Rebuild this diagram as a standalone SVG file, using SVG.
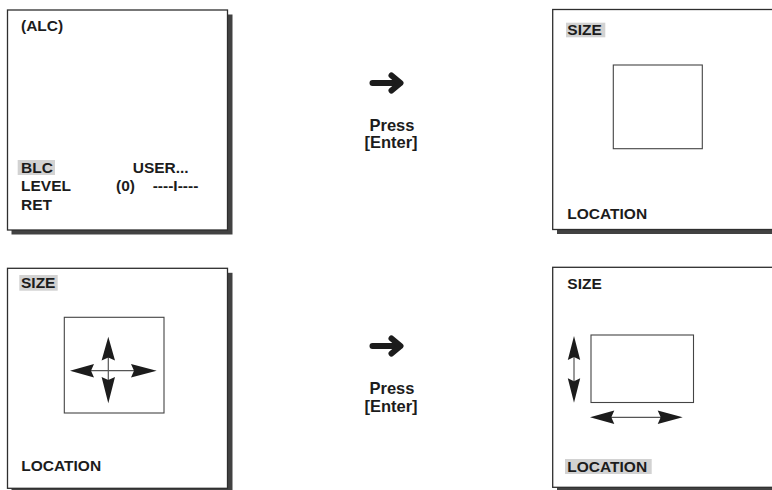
<svg xmlns="http://www.w3.org/2000/svg" width="772" height="490" viewBox="0 0 772 490">
<style>
.bg{fill:#ffffff}
.shadow{fill:#424242}
.screen{fill:#ffffff;stroke:#2e2e2e;stroke-width:1.3}
.inner{fill:none;stroke:#444;stroke-width:1.1}
.hl{fill:#d2d2d2}
.t{font-family:"Liberation Sans",Arial,Helvetica,sans-serif;font-weight:bold;font-size:15.5px;fill:#1c1c1c}
.tm{font-family:"Liberation Sans",Arial,Helvetica,sans-serif;font-weight:bold;font-size:16.5px;fill:#1c1c1c;text-anchor:middle}
.head{fill:#1c1c1c}
.shaft{stroke:#555;stroke-width:1.2;fill:none}
.big{stroke:#1c1c1c;stroke-width:6;stroke-linecap:round;stroke-linejoin:round;fill:none}
</style>
<rect class="bg" x="0" y="0" width="772" height="490"/>

<g id="screen-alc">
<rect class="shadow" x="11.5" y="14.5" width="221" height="220"/>
<rect class="screen" x="7.5" y="10" width="220" height="220"/>
<rect class="hl" x="17.7" y="160" width="37.3" height="15"/>
<text class="t" x="21" y="31">(ALC)</text>
<text class="t" x="21" y="172.5">BLC</text>
<text class="t" x="132.7" y="172.5">USER...</text>
<text class="t" x="21" y="191">LEVEL</text>
<text class="t" x="116" y="191">(0)</text>
<text class="t" x="152.7" y="191">----I----</text>
<text class="t" x="21" y="209.5">RET</text>
</g>

<g id="screen-size-1">
<rect class="shadow" x="557" y="14" width="221" height="220"/>
<rect class="screen" x="552.7" y="9.5" width="220" height="220"/>
<rect class="hl" x="566" y="22.7" width="39.3" height="14.6"/>
<text class="t" x="567.3" y="34.7">SIZE</text>
<rect class="inner" x="613.3" y="65" width="89" height="83.7"/>
<text class="t" x="567.3" y="219">LOCATION</text>
</g>

<g id="screen-size-2">
<rect class="shadow" x="11.5" y="272.8" width="221" height="220"/>
<rect class="screen" x="7.5" y="268.3" width="220" height="220"/>
<rect class="hl" x="19.3" y="275" width="38.4" height="15.7"/>
<text class="t" x="21" y="288.3">SIZE</text>
<rect class="inner" x="64.3" y="317.3" width="99.7" height="95.7"/>
<line class="shaft" x1="90" y1="370.7" x2="135" y2="370.7"/>
<line class="shaft" x1="108.3" y1="357" x2="108.3" y2="381"/>
<path class="head" d="M108.3,336.7 L115,360.5 L108.3,357.5 L101.6,360.5 Z"/>
<path class="head" d="M108.3,403.3 L115,377 L108.3,380 L101.6,377 Z"/>
<path class="head" d="M70,370.7 L94,364 L91,370.7 L94,377.4 Z"/>
<path class="head" d="M156.7,370.7 L131,364 L134,370.7 L131,377.4 Z"/>
<text class="t" x="21.3" y="471">LOCATION</text>
</g>

<g id="screen-location">
<rect class="shadow" x="557" y="271.8" width="221" height="220"/>
<rect class="screen" x="552.7" y="267.3" width="220" height="220"/>
<text class="t" x="567.3" y="289">SIZE</text>
<rect class="inner" x="591" y="335" width="102.5" height="67.5"/>
<line class="shaft" x1="574" y1="357" x2="574" y2="381"/>
<path class="head" d="M574,336 L580.2,360 L574,357 L567.8,360 Z"/>
<path class="head" d="M574,402.7 L580.2,378.3 L574,381.3 L567.8,378.3 Z"/>
<line class="shaft" x1="611" y1="417.3" x2="661" y2="417.3"/>
<path class="head" d="M590,417.3 L614.3,410.6 L611.3,417.3 L614.3,424 Z"/>
<path class="head" d="M682.7,417.3 L657.7,410.6 L660.7,417.3 L657.7,424 Z"/>
<rect class="hl" x="565" y="459" width="86.7" height="15"/>
<text class="t" x="567.3" y="472.3">LOCATION</text>
</g>

<g id="connectors">
<g id="step-1">
<line class="big" x1="372.5" y1="83" x2="398" y2="83"/>
<polyline class="big" points="391.5,75.5 400.5,83 391.5,90.5"/>
</g>
<g id="step-2">
<line class="big" x1="372.5" y1="346" x2="398" y2="346"/>
<polyline class="big" points="391.5,338.5 400.5,346 391.5,353.5"/>
</g>
</g>

<g id="labels">
<text class="tm" x="392" y="130.7">Press</text>
<text class="tm" x="391" y="148.3">[Enter]</text>
<text class="tm" x="392" y="394">Press</text>
<text class="tm" x="391" y="411.7">[Enter]</text>
</g>
</svg>
